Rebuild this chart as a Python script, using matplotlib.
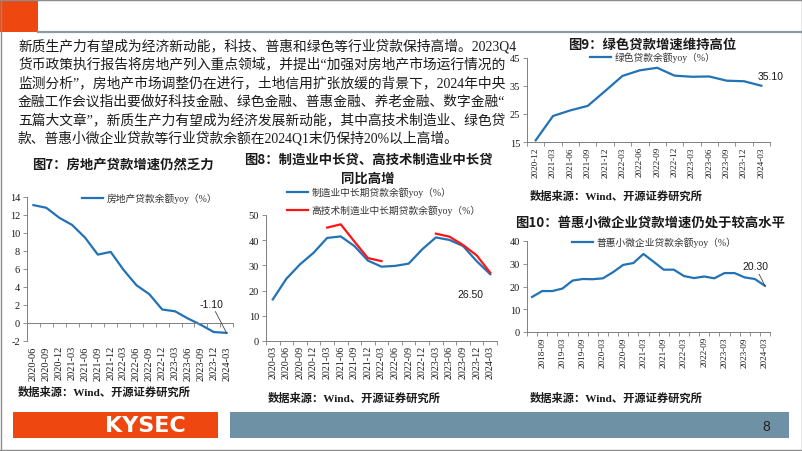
import matplotlib
matplotlib.use('Agg')
import matplotlib.pyplot as plt
import numpy as np
from matplotlib.lines import Line2D
from matplotlib.patches import Rectangle

# ---------------- data ----------------
para_lines = [
    "新质生产力有望成为经济新动能，科技、普惠和绿色等行业贷款保持高增。2023Q4",
    "货币政策执行报告将房地产列入重点领域，并提出“加强对房地产市场运行情况的",
    "监测分析”，房地产市场调整仍在进行，土地信用扩张放缓的背景下，2024年中央",
    "金融工作会议指出要做好科技金融、绿色金融、普惠金融、养老金融、数字金融“",
    "五篇大文章”，新质生产力有望成为经济发展新动能，其中高技术制造业、绿色贷",
    "款、普惠小微企业贷款等行业贷款余额在2024Q1末仍保持20%以上高增。",
]

re_dates = ['2020-06', '2020-09', '2020-12', '2021-03', '2021-06', '2021-09', '2021-12', '2022-03',
            '2022-06', '2022-09', '2022-12', '2023-03', '2023-06', '2023-09', '2023-12', '2024-03']
re_vals = [13.1, 12.8, 11.7, 10.9, 9.5, 7.6, 7.9, 5.9, 4.2, 3.2, 1.5, 1.3, 0.5, -0.2, -1.0, -1.1]

mfg_dates = ['2020-03', '2020-06', '2020-09', '2020-12', '2021-03', '2021-06', '2021-09', '2021-12',
             '2022-03', '2022-06', '2022-09', '2022-12', '2023-03', '2023-06', '2023-09', '2023-12', '2024-03']
mfg_vals = [16.5, 24.7, 30.4, 35.0, 40.9, 41.5, 37.7, 31.9, 29.5, 29.8, 30.7, 36.4, 41.1, 40.1, 37.7, 31.7, 26.5]
hitech_vals = [np.nan, np.nan, np.nan, np.nan, 45.0, 46.3, 39.5, 32.9, 31.7, np.nan, np.nan, np.nan,
               42.6, 41.4, 38.1, 34.0, 27.1]

green_dates = ['2020-12', '2021-03', '2021-06', '2021-09', '2021-12', '2022-03', '2022-06', '2022-09',
               '2022-12', '2023-03', '2023-06', '2023-09', '2023-12', '2024-03']
green_vals = [15.6, 24.3, 26.3, 27.9, 33.2, 38.6, 40.6, 41.5, 38.7, 38.3, 38.4, 36.9, 36.7, 35.1]

inc_dates = ['2018-06', '2018-09', '2018-12', '2019-03', '2019-06', '2019-09', '2019-12', '2020-03',
             '2020-06', '2020-09', '2020-12', '2021-03', '2021-06', '2021-09', '2021-12', '2022-03',
             '2022-06', '2022-09', '2022-12', '2023-03', '2023-06', '2023-09', '2023-12', '2024-03']
inc_vals = [15.4, 18.0, 18.0, 19.1, 22.6, 23.3, 23.2, 23.6, 26.3, 29.5, 30.3, 34.3, 30.9, 27.4, 27.4,
            24.6, 23.7, 24.4, 23.6, 25.9, 25.9, 24.0, 23.3, 20.3]

titles = ["图7：房地产贷款增速仍然乏力",
          "图8：制造业中长贷、高技术制造业中长贷\n同比高增",
          "图9：绿色贷款增速维持高位",
          "图10：普惠小微企业贷款增速仍处于较高水平"]
legend_labels = ["房地产贷款余额yoy（%）", "制造业中长期贷款余额yoy（%）",
                 "高技术制造业中长期贷款余额yoy（%）", "绿色贷款余额yoy（%）",
                 "普惠小微企业贷款余额yoy（%）"]
source_text = "数据来源：Wind、开源证券研究所"

# ---------------- style ----------------
SERIF = ['Liberation Serif', 'Noto Sans CJK SC']
CJK = ['Noto Sans CJK SC', 'Liberation Serif']
SANS = ['Liberation Sans', 'DejaVu Sans']
plt.rcParams['font.family'] = SERIF
plt.rcParams['axes.unicode_minus'] = False

BLUE = '#2272B6'
RED = '#FF1414'
ORANGE = '#EE4710'
BAR = '#6F91A6'
AXC = '#7F7F7F'
TXT = '#1A1A1A'

W, H = 802, 452
fig = plt.figure(figsize=(W / 100, H / 100), dpi=100)


def fx(px):
    return px / W


def fy(py):
    return 1 - py / H


def add_axes(x0, x1, ytop, ybot):
    return fig.add_axes([fx(x0), fy(ybot), fx(x1 - x0), (ybot - ytop) / H])


def style_axes(ax, labels, yticks, start=0, every=1, fs=7, yfs=7.5, hide_bottom_labels=False):
    n = len(labels)
    pos = np.arange(n)
    ax.set_xlim(-0.5, n - 0.5)
    ax.set_ylim(yticks[0], yticks[-1])
    ax.set_yticks(yticks)
    ax.set_yticklabels([str(v) for v in yticks], fontsize=yfs, color=TXT)
    idx = pos[start::every]
    ax.set_xticks(idx)
    if hide_bottom_labels:
        ax.set_xticklabels([])
    else:
        ax.set_xticklabels([labels[i] for i in idx], rotation=90, fontsize=fs, color=TXT)
    ax.set_xticks(np.arange(n + 1) - 0.5, minor=True)
    ax.tick_params(axis='x', which='major', length=0, pad=3)
    ax.tick_params(axis='x', which='minor', length=3, width=0.6, color=AXC, direction='out')
    ax.tick_params(axis='y', length=3, width=0.6, color=AXC, pad=2)
    for s in ['top', 'right']:
        ax.spines[s].set_visible(False)
    for s in ['left', 'bottom']:
        ax.spines[s].set_color(AXC)
        ax.spines[s].set_linewidth(0.7)
    ax.patch.set_alpha(0)
    return pos


def legend_at(handles, labels, x, y, fs=7):
    fig.legend(handles, labels, loc='center left', bbox_to_anchor=(fx(x), fy(y)),
               frameon=False, prop=dict(family=SERIF, size=fs), handlelength=2.2,
               handletextpad=0.3, borderpad=0, borderaxespad=0, labelcolor='#333333')


# ---------------- slide frame ----------------
fig.add_artist(Rectangle((0, fy(33)), fx(38), 33 / H, transform=fig.transFigure,
                         facecolor=ORANGE, edgecolor='none'))
fig.add_artist(Line2D([fx(38), 1], [fy(33), fy(33)], transform=fig.transFigure, color='#8A9AA6', lw=1.6))
fig.add_artist(Line2D([0, 1], [fy(0.5), fy(0.5)], transform=fig.transFigure, color='#8C8C8C', lw=1.0))
fig.add_artist(Line2D([fx(0.5), fx(0.5)], [0, 1], transform=fig.transFigure, color='#8C8C8C', lw=1.0))
fig.add_artist(Line2D([fx(801.5), fx(801.5)], [0, 1], transform=fig.transFigure, color='#8C8C8C', lw=1.0))
fig.add_artist(Line2D([0, 1], [fy(450.5), fy(450.5)], transform=fig.transFigure, color='#8C8C8C', lw=1.0))

# footer
fig.add_artist(Rectangle((fx(13), fy(439)), fx(205), 26 / H, transform=fig.transFigure,
                         facecolor=ORANGE, edgecolor='none'))
fig.add_artist(Rectangle((fx(230), fy(439)), fx(559), 26 / H, transform=fig.transFigure,
                         facecolor=BAR, edgecolor='none'))
fig.text(fx(145), fy(426.5), "KYSEC", ha='center', va='center', color='white',
         fontsize=16, fontweight='bold', family=['DejaVu Sans'])
fig.text(fx(766), fy(427), "8", ha='center', va='center', color='#222222',
         fontsize=10, family=SANS)

# ---------------- paragraph ----------------
para_y = [46, 64.5, 83, 101.5, 120, 138.5]
for line, yy in zip(para_lines, para_y):
    fig.text(fx(18), fy(yy), line, ha='left', va='center', fontsize=9.9, color=TXT, family=SERIF)

# ---------------- chart 7 ----------------
ax7 = add_axes(27, 233, 198, 342)
p7 = style_axes(ax7, re_dates, list(range(-2, 15, 2)), fs=7.5, yfs=7.5, hide_bottom_labels=True)
ax7.spines['bottom'].set_position(('data', 0))
sec7 = ax7.secondary_xaxis('bottom')
sec7.set_xticks(p7)
sec7.set_xticklabels(re_dates, rotation=90, fontsize=7.5, color=TXT)
sec7.tick_params(length=0, pad=3)
sec7.spines['bottom'].set_visible(False)
l7, = ax7.plot(p7, re_vals, color=BLUE, lw=1.6)
ax7.annotate(f"{re_vals[-1]:.2f}", xy=(p7[-1], re_vals[-1]), xytext=(-11, 21),
             textcoords='offset points', ha='center', va='center', fontsize=7.5, family=SANS,
             color=TXT, arrowprops=dict(arrowstyle='-', color='#444444', lw=0.6, shrinkA=0, shrinkB=0))
legend_at([l7], [legend_labels[0]], 82, 199)
fig.text(fx(123), fy(165), titles[0], ha='center', va='center', fontsize=9.6,
         fontweight='bold', family=CJK, color=TXT)
fig.text(fx(18), fy(392), source_text, ha='left', va='center', fontsize=8.1,
         fontweight='bold', family=SERIF, color=TXT)

# ---------------- chart 8 ----------------
ax8 = add_axes(266, 497, 216, 342)
p8 = style_axes(ax8, mfg_dates, list(range(0, 51, 10)), fs=7.2, yfs=7.5)
l8a, = ax8.plot(p8, mfg_vals, color=BLUE, lw=1.6)
l8b, = ax8.plot(p8, hitech_vals, color=RED, lw=1.6)
ax8.annotate(f"{mfg_vals[-1]:.2f}", xy=(p8[-1], mfg_vals[-1]), xytext=(-14, -14),
             textcoords='offset points', ha='center', va='center', fontsize=7.5, family=SANS, color=TXT)
legend_at([l8a], [legend_labels[1]], 287, 193)
legend_at([l8b], [legend_labels[2]], 287, 211)
fig.text(fx(368), fy(169.5), titles[1], ha='center', va='center', fontsize=9.6,
         fontweight='bold', family=CJK, color=TXT, linespacing=1.45)
fig.text(fx(268), fy(398), source_text, ha='left', va='center', fontsize=8.1,
         fontweight='bold', family=SERIF, color=TXT)

# ---------------- chart 9 ----------------
ax9 = add_axes(527, 770, 59, 143)
p9 = style_axes(ax9, green_dates, [15, 25, 35, 45], fs=6.6, yfs=7.5)
l9, = ax9.plot(p9, green_vals, color=BLUE, lw=1.6)
ax9.annotate(f"{green_vals[-1]:.2f}", xy=(p9[-1], green_vals[-1]), xytext=(7, 7),
             textcoords='offset points', ha='center', va='center', fontsize=7.5, family=SANS, color=TXT)
legend_at([l9], [legend_labels[3]], 590, 58)
fig.text(fx(652), fy(45), titles[2], ha='center', va='center', fontsize=9.6,
         fontweight='bold', family=CJK, color=TXT)
fig.text(fx(530), fy(196), source_text, ha='left', va='center', fontsize=8.1,
         fontweight='bold', family=SERIF, color=TXT)

# ---------------- chart 10 ----------------
ax10 = add_axes(527, 770, 242, 333)
p10 = style_axes(ax10, inc_dates, [0, 10, 20, 30, 40], start=1, every=2, fs=6.6, yfs=7.5)
l10, = ax10.plot(p10, inc_vals, color=BLUE, lw=1.6)
ax10.annotate(f"{inc_vals[-1]:.2f}", xy=(p10[-1], inc_vals[-1]), xytext=(-7, 14),
              textcoords='offset points', ha='center', va='center', fontsize=7.5, family=SANS,
              color=TXT, arrowprops=dict(arrowstyle='-', color='#444444', lw=0.6, shrinkA=0, shrinkB=0))
legend_at([l10], [legend_labels[4]], 572, 243)
fig.text(fx(650), fy(223), titles[3], ha='center', va='center', fontsize=9.6,
         fontweight='bold', family=CJK, color=TXT)
fig.text(fx(530), fy(398), source_text, ha='left', va='center', fontsize=8.1,
         fontweight='bold', family=SERIF, color=TXT)

fig.savefig('out.png', dpi=100)
